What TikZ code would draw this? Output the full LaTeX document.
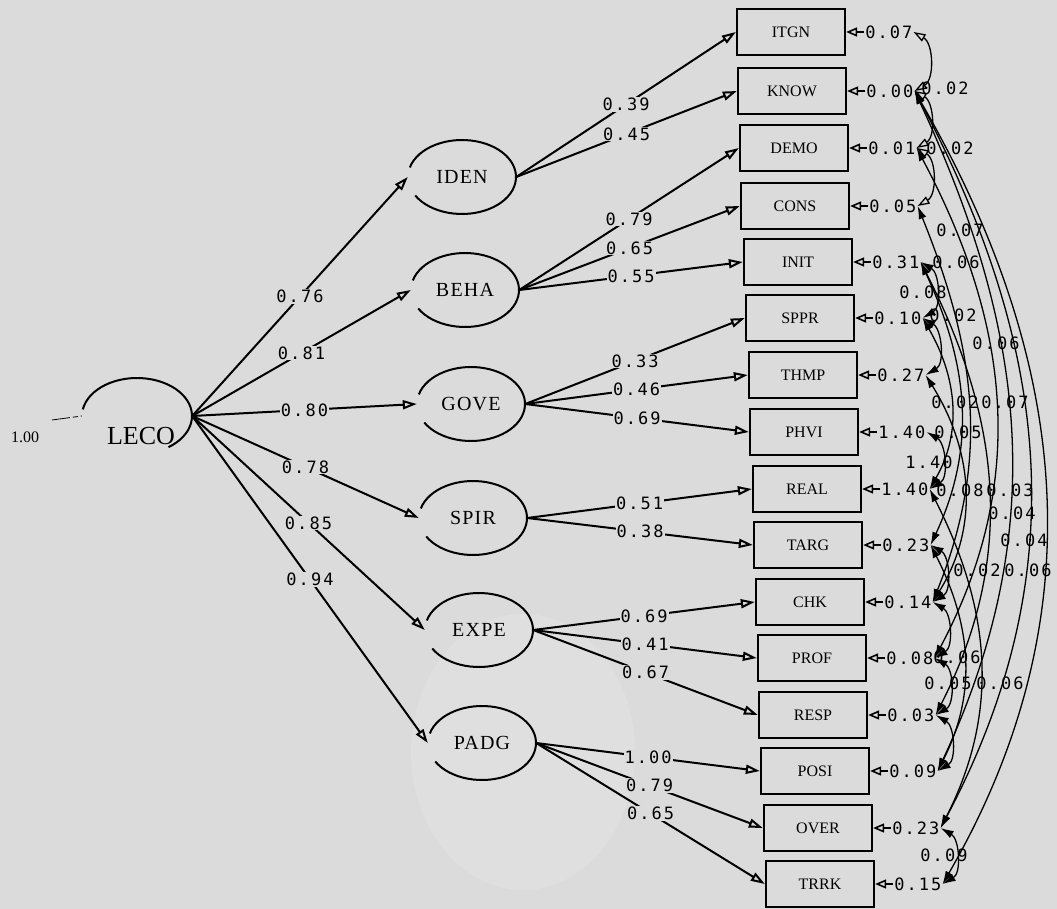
\documentclass[tikz,border=0pt]{standalone}
\usepackage{fontspec}
\setmainfont{Liberation Serif}
\newfontfamily\coeffont[LetterSpace=12]{DejaVu Sans Mono}
\newfontfamily\latfont[LetterSpace=6]{Liberation Serif}
\usepackage{tikz}
\usetikzlibrary{positioning, arrows.meta, shapes.geometric}
\definecolor{paper}{gray}{0.86}

\begin{document}
\begin{tikzpicture}[x=1pt, y=-1pt, every node/.style={inner sep=1pt},
  obs/.style={draw, line width=2.3pt, minimum width=108pt, minimum height=46pt, font=\fontsize{16}{16}\selectfont},
  lat/.style={ellipse, minimum width=108pt, minimum height=74pt, font=\latfont\fontsize{20}{20}\selectfont},
  coef/.style={font=\coeffont\fontsize{17}{17}\selectfont},
  load/.style={line width=2pt, -{Triangle[open, length=14pt, width=9pt]}},
  errarr/.style={line width=1.6pt, -{Triangle[open, length=11pt, width=9pt]}},
  err/.style={coef, right=18pt of #1},
  corr/.style={line width=1.3pt, {Latex[length=13pt, width=8pt]}-{Latex[length=13pt, width=8pt]}},
  ocorr/.style={line width=1.3pt, {Triangle[open, length=12pt, width=8pt]}-{Triangle[open, length=12pt, width=8pt]}}]
  \fill[paper] (0,0) rectangle (1057,909);
  \useasboundingbox (0,0) rectangle (1057,909);
  \fill[white, opacity=0.12] (523,752) ellipse [x radius=112, y radius=138];

  \node[lat, minimum width=110pt, minimum height=76pt] (LECO) at (137,416) {};
  \draw[line width=2pt] (LECO.center) ++(-170:55 and 38) arc[start angle=-170, end angle=55, x radius=55, y radius=38];
  \node[font=\fontsize{26}{26}\selectfont] (LECOtxt) at (141,436) {LECO};
  \node[font=\fontsize{16}{16}\selectfont] (LECOval) at (25,437) {1.00};
  \coordinate (LECOin) at (52,420);
  \draw[line width=0.8pt, dash pattern=on 18pt off 3pt on 5pt off 3pt] (LECOin) -- (LECO.west);

  \node[lat] (IDEN) at (462,177) {IDEN};
  \node[lat] (BEHA) at (465,290) {BEHA};
  \node[lat] (GOVE) at (471,404) {GOVE};
  \node[lat] (SPIR) at (473,518) {SPIR};
  \node[lat] (EXPE) at (479,630) {EXPE};
  \node[lat] (PADG) at (482,743) {PADG};
  \foreach \n in {IDEN,BEHA,GOVE,SPIR,EXPE,PADG}
    \draw[line width=2pt] (\n.center) ++(-165:54 and 37) arc[start angle=-165, end angle=150, x radius=54, y radius=37];

  \node[obs] (ITGN) at (791,32) {ITGN};
  \node[obs] (KNOW) at (792,91) {KNOW};
  \node[obs] (DEMO) at (794,148) {DEMO};
  \node[obs] (CONS) at (795,206) {CONS};
  \node[obs] (INIT) at (798,262) {INIT};
  \node[obs] (SPPR) at (800,318) {SPPR};
  \node[obs] (THMP) at (803,375) {THMP};
  \node[obs] (PHVI) at (804,432) {PHVI};
  \node[obs] (REAL) at (807,489) {REAL};
  \node[obs] (TARG) at (808,545) {TARG};
  \node[obs] (CHK) at (810,602) {CHK};
  \node[obs] (PROF) at (812,658) {PROF};
  \node[obs] (RESP) at (813,715) {RESP};
  \node[obs] (POSI) at (815,771) {POSI};
  \node[obs] (OVER) at (818,828) {OVER};
  \node[obs] (TRRK) at (820,884) {TRRK};

  \draw[load] (LECO.east) -- node[coef, fill=paper] {0.76} (IDEN.west);
  \draw[load] (LECO.east) -- node[coef, fill=paper] {0.81} (BEHA.west);
  \draw[load] (LECO.east) -- node[coef, fill=paper] {0.80} (GOVE.west);
  \draw[load] (LECO.east) -- node[coef, fill=paper] {0.78} (SPIR.west);
  \draw[load] (LECO.east) -- node[coef, fill=paper] {0.85} (EXPE.west);
  \draw[load] (LECO.east) -- node[coef, fill=paper] {0.94} (PADG.west);

  \draw[load] (IDEN.east) -- node[coef, fill=paper] {0.39} (ITGN.west);
  \draw[load] (IDEN.east) -- node[coef, fill=paper] {0.45} (KNOW.west);
  \draw[load] (BEHA.east) -- node[coef, fill=paper] {0.79} (DEMO.west);
  \draw[load] (BEHA.east) -- node[coef, fill=paper] {0.65} (CONS.west);
  \draw[load] (BEHA.east) -- node[coef, fill=paper] {0.55} (INIT.west);
  \draw[load] (GOVE.east) -- node[coef, fill=paper] {0.33} (SPPR.west);
  \draw[load] (GOVE.east) -- node[coef, fill=paper] {0.46} (THMP.west);
  \draw[load] (GOVE.east) -- node[coef, fill=paper] {0.69} (PHVI.west);
  \draw[load] (SPIR.east) -- node[coef, fill=paper] {0.51} (REAL.west);
  \draw[load] (SPIR.east) -- node[coef, fill=paper] {0.38} (TARG.west);
  \draw[load] (EXPE.east) -- node[coef, fill=paper] {0.69} (CHK.west);
  \draw[load] (EXPE.east) -- node[coef, fill=paper] {0.41} (PROF.west);
  \draw[load] (EXPE.east) -- node[coef, fill=paper] {0.67} (RESP.west);
  \draw[load] (PADG.east) -- node[coef, fill=paper] {1.00} (POSI.west);
  \draw[load] (PADG.east) -- node[coef, fill=paper] {0.79} (OVER.west);
  \draw[load] (PADG.east) -- node[coef, fill=paper] {0.65} (TRRK.west);

  \node[err=ITGN] (eITGN) {0.07};
  \node[err=KNOW] (eKNOW) {0.00};
  \node[err=DEMO] (eDEMO) {0.01};
  \node[err=CONS] (eCONS) {0.05};
  \node[err=INIT] (eINIT) {0.31};
  \node[err=SPPR] (eSPPR) {0.10};
  \node[err=THMP] (eTHMP) {0.27};
  \node[err=PHVI] (ePHVI) {1.40};
  \node[err=REAL] (eREAL) {1.40};
  \node[err=TARG] (eTARG) {0.23};
  \node[err=CHK] (eCHK) {0.14};
  \node[err=PROF] (ePROF) {0.08};
  \node[err=RESP] (eRESP) {0.03};
  \node[err=POSI] (ePOSI) {0.09};
  \node[err=OVER] (eOVER) {0.23};
  \node[err=TRRK] (eTRRK) {0.15};
  \draw[errarr] (eITGN.west) -- (ITGN.east);
  \draw[errarr] (eKNOW.west) -- (KNOW.east);
  \draw[errarr] (eDEMO.west) -- (DEMO.east);
  \draw[errarr] (eCONS.west) -- (CONS.east);
  \draw[errarr] (eINIT.west) -- (INIT.east);
  \draw[errarr] (eSPPR.west) -- (SPPR.east);
  \draw[errarr] (eTHMP.west) -- (THMP.east);
  \draw[errarr] (ePHVI.west) -- (PHVI.east);
  \draw[errarr] (eREAL.west) -- (REAL.east);
  \draw[errarr] (eTARG.west) -- (TARG.east);
  \draw[errarr] (eCHK.west) -- (CHK.east);
  \draw[errarr] (ePROF.west) -- (PROF.east);
  \draw[errarr] (eRESP.west) -- (RESP.east);
  \draw[errarr] (ePOSI.west) -- (POSI.east);
  \draw[errarr] (eOVER.west) -- (OVER.east);
  \draw[errarr] (eTRRK.west) -- (TRRK.east);

  \draw[ocorr] (eITGN.east) to[out=-30, in=30] (eKNOW.east);
  \draw[ocorr] (eKNOW.east) to[out=-30, in=30] (eDEMO.east);
  \draw[ocorr] (eDEMO.east) to[out=-30, in=30] (eCONS.east);
  \draw[corr] (eINIT.east) to[out=-30, in=30] (eSPPR.east);
  \draw[corr] (eSPPR.east) to[out=-30, in=30] (eTHMP.east);
  \draw[corr] (ePHVI.east) to[out=-30, in=30] (eREAL.east);
  \draw[corr] (eTARG.east) to[out=-30, in=30] (eCHK.east);
  \draw[corr] (eCHK.east) to[out=-30, in=30] (ePROF.east);
  \draw[corr] (ePROF.east) to[out=-30, in=30] (eRESP.east);
  \draw[corr] (eRESP.east) to[out=-30, in=30] (ePOSI.east);
  \draw[corr] (eOVER.east) to[out=-30, in=30] (eTRRK.east);
  \draw[corr] (eKNOW.east) to[out=-60, in=60] (eTRRK.east);
  \draw[corr] (eKNOW.east) to[out=-62, in=62] (eOVER.east);
  \draw[corr] (eKNOW.east) to[out=-65, in=65] (ePOSI.east);
  \draw[corr] (eDEMO.east) to[out=-62, in=62] (ePROF.east);
  \draw[corr] (eCONS.east) to[out=-68, in=68] (eCHK.east);
  \draw[corr] (eINIT.east) to[out=-63, in=63] (eRESP.east);
  \draw[corr] (eINIT.east) to[out=-65, in=65] (eTARG.east);
  \draw[corr] (eSPPR.east) to[out=-60, in=60] (eREAL.east);
  \draw[corr] (eTHMP.east) to[out=-58, in=58] (eCHK.east);
  \draw[corr] (eREAL.east) to[out=-63, in=63] (eOVER.east);
  \draw[corr] (eTARG.east) to[out=-63, in=63] (ePOSI.east);

  \node[coef] (c1) at (945,88) {0.02};
  \node[coef] (c2) at (950,148) {0.02};
  \node[coef] (c3) at (960,230) {0.07};
  \node[coef] (c4) at (956,262) {0.06};
  \node[coef] (c5) at (923,292) {0.08};
  \node[coef] (c6) at (953,315) {0.02};
  \node[coef] (c7) at (996,343) {0.06};
  \node[coef] (c8) at (955,402) {0.02};
  \node[coef] (c9) at (1005,402) {0.07};
  \node[coef] (c10) at (958,432) {0.05};
  \node[coef] (c11) at (929,462) {1.40};
  \node[coef] (c12) at (960,490) {0.08};
  \node[coef] (c13) at (1010,490) {0.03};
  \node[coef] (c14) at (1012,513) {0.04};
  \node[coef] (c15) at (1024,540) {0.04};
  \node[coef] (c16) at (977,570) {0.02};
  \node[coef] (c17) at (1028,570) {0.06};
  \node[coef] (c18) at (957,657) {0.06};
  \node[coef] (c19) at (948,683) {0.05};
  \node[coef] (c20) at (1000,683) {0.06};
  \node[coef] (c21) at (944,855) {0.09};
\end{tikzpicture}
\end{document}
